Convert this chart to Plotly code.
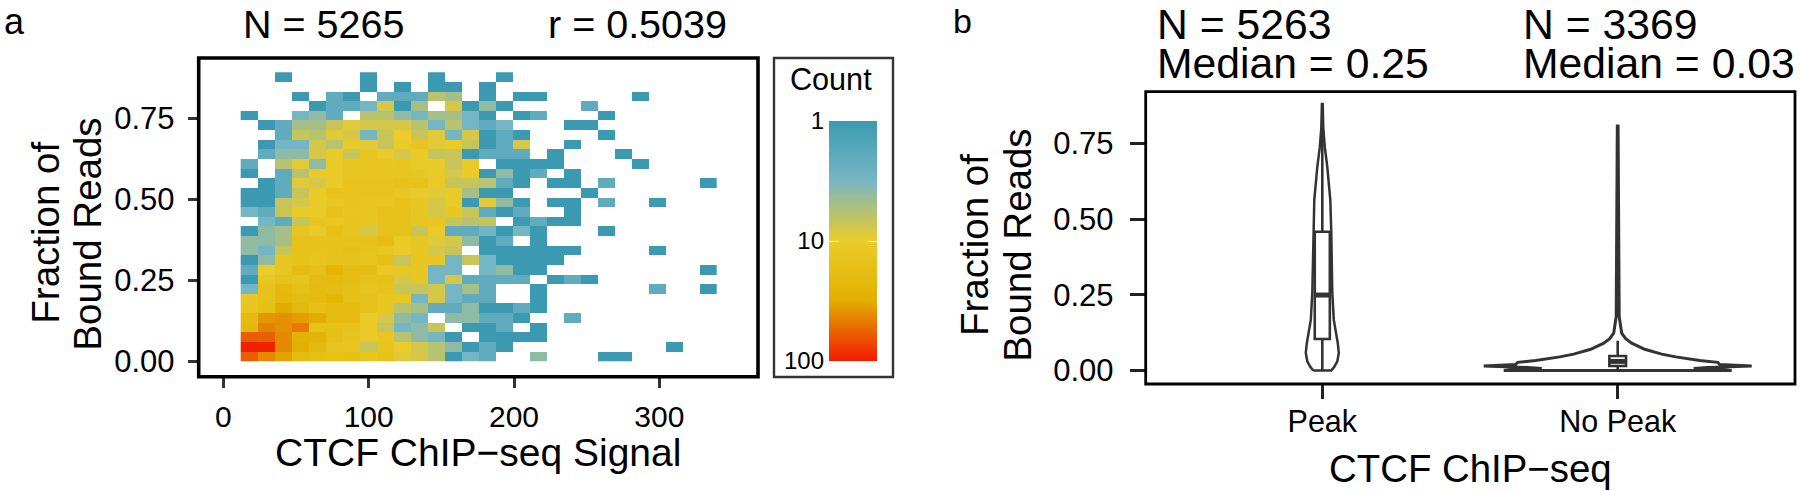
import numpy as np
import plotly.graph_objects as go

W, H = 1800, 491
FONT = "Liberation Sans"
INK = "#333333"

# Panel a: 2D histogram, counts per cell, bottom row first
BIN_X0, BIN_DX = 11.9, 11.7
BIN_DY = 0.0297
counts = [
    [60,42,35,20,17,16,17,13,15,9,8,6,1,3,2,0,0,4,0,0,0,1,1],
    [95,95,42,30,22,14,13,7,14,10,8,6,4,1,2,1,0,0,0,0,0,0,0,0,0,1],
    [60,58,42,28,26,17,14,11,13,6,4,3,1,0,1,1,1,1],
    [22,45,40,48,15,17,15,11,7,3,4,7,0,1,1,2,0,1],
    [20,38,40,36,32,20,20,11,8,4,3,0,4,4,2,2,1,0,0,2],
    [13,17,32,22,17,19,20,15,13,6,5,2,2,4,1,1,2,1],
    [12,15,22,19,20,24,17,15,12,12,3,8,3,2,2,0,0,1],
    [3,15,21,17,20,18,17,13,15,7,7,8,3,5,2,0,0,1,0,0,0,0,0,0,2,0,0,1],
    [1,12,16,14,19,20,18,15,16,8,12,3,8,2,2,2,2,0,1,2,1],
    [2,10,13,19,16,25,18,18,12,12,12,3,3,0,3,4,1,1,0,0,0,0,0,0,0,0,0,1],
    [1,4,13,15,14,15,15,14,17,7,12,12,3,7,3,1,1,1,1],
    [4,3,7,15,15,15,17,15,13,11,12,8,7,0,1,1,1,1,1,1,0,0,0,0,1],
    [4,4,5,15,15,15,15,16,18,11,12,9,8,4,1,2,0,1],
    [1,4,5,14,11,17,14,8,15,15,7,11,2,2,3,1,3,1,0,0,0,1],
    [0,3,2,7,13,12,14,13,15,15,13,12,7,6,7,0,1,2,1,1],
    [3,2,7,11,11,15,13,13,16,16,12,8,12,7,2,1,2,0,0,1],
    [1,1,7,8,11,12,14,13,13,15,12,8,11,1,9,4,1,0,1,1,0,2,0,0,1],
    [1,1,2,7,11,15,14,14,14,12,11,9,11,5,1,1,0,0,0,0,1],
    [0,1,2,9,8,11,14,14,14,15,15,11,7,7,6,2,1,0,1,1,0,2,0,0,0,0,0,1],
    [1,0,2,6,11,11,13,13,13,13,12,11,8,11,1,4,1,2,0,1],
    [2,0,6,9,4,11,12,13,12,13,11,11,7,11,0,1,1,1,1,0,0,0,0,1],
    [0,2,4,4,8,11,7,13,11,8,11,7,7,1,2,2,2,0,1,0,0,0,1],
    [0,1,3,3,8,6,11,9,7,11,13,9,11,7,1,2,8,0,0,1],
    [0,0,2,7,6,9,8,3,7,10,7,9,3,8,1,2,1,0,0,0,0,1],
    [0,1,2,5,5,7,9,8,8,8,6,3,6,3,2,3,0,0,0,1,1],
    [1,0,0,3,4,2,0,6,6,4,3,5,5,3,1,0,1,2,0,0,0,1],
    [0,0,0,0,1,2,2,3,8,1,5,0,8,1,4,1,0,0,0,0,2],
    [0,0,0,1,0,2,1,0,2,2,2,6,5,0,1,0,1,1,0,0,0,0,0,1],
    [0,0,0,0,0,0,0,1,0,1,0,1,1,0,1],
    [0,0,1,0,0,0,0,1,0,0,0,1,0,0,0,1],
]
zissou = [[0, "#3B9AB2"], [0.25, "#78B7C5"], [0.5, "#EBCC2A"], [0.75, "#E1AF00"], [1, "#F21A00"]]
x_ticks_a = [0, 100, 200, 300]
y_ticks = [0, 0.25, 0.5, 0.75]
y_tick_labels = ["0.00", "0.25", "0.50", "0.75"]
legend_vals = [0, 1, 2]
legend_labels = ["1", "10", "100"]

# Panel b: violin outlines (value, half width of density) and box stats
cats = ["Peak", "No Peak"]
peak_val = [0, 0.012, 0.03, 0.058, 0.09, 0.167, 0.256, 0.454, 0.563, 0.672, 0.737, 0.80, 0.8795]
peak_dens = [9, 12, 15, 16.5, 15.5, 11.5, 10, 9, 8, 5, 2.5, 1, 0.4]
nopeak_val = [0, 0.004, 0.007, 0.01, 0.015, 0.02, 0.027, 0.033, 0.045, 0.054, 0.07, 0.09, 0.105, 0.123, 0.178, 0.4, 0.6, 0.807]
nopeak_dens = [114, 100, 76, 90, 134, 102, 100, 82, 58, 44, 27, 14, 8, 4, 1.5, 1.0, 0.8, 0.4]
violin_line = [2.5, 3.0]
box_q1 = [0.104, 0.015]
box_med = [0.249, 0.03]
box_q3 = [0.458, 0.048]
box_lo = [0.0, 0.0]
box_hi = [0.8795, 0.098]
box_w = [0.051, 0.0565]

# Pixel frames
ax_a = dict(l=198.7, r=758, t=58, b=376.7)
ax_leg = dict(l=829, r=877, t=121, b=361)
ax_b = dict(l=1145.7, r=1795, t=91.7, b=384)
def dom(a):
    return dict(x=[a["l"]/W, a["r"]/W], y=[1-a["b"]/H, 1-a["t"]/H])

fig = go.Figure()

# Panel a heatmap
ncol = max(len(r) for r in counts)
z = [[(np.log10(v) if v else None) for v in (r + [0]*(ncol-len(r)))] for r in counts]
xc = [BIN_X0 + BIN_DX*(i+0.5) for i in range(ncol)]
yc = [BIN_DY*(i+0.5) for i in range(len(counts))]
fig.add_trace(go.Heatmap(x=xc, y=yc, z=z, zmin=0, zmax=2, colorscale=zissou, showscale=False,
                         hoverongaps=False, xaxis="x", yaxis="y"))

# Legend ramp
ramp = np.linspace(0, 2, 121)
fig.add_trace(go.Heatmap(x=[0, 1], y=ramp, z=[[v, v] for v in ramp], zmin=0, zmax=2, colorscale=zissou,
                         showscale=False, xaxis="x2", yaxis="y2"))

# Violins
PX_PER_X = 295.4
for i, (vals, dens) in enumerate([(peak_val, peak_dens), (nopeak_val, nopeak_dens)]):
    c = i + 1
    hw = [d/PX_PER_X for d in dens]
    xs = [c - h for h in hw] + [c + h for h in hw[::-1]] + [c - hw[0]]
    ys = list(vals) + list(vals[::-1]) + [vals[0]]
    fig.add_trace(go.Scatter(x=xs, y=ys, mode="lines", line=dict(color=INK, width=violin_line[i]),
                             hoverinfo="skip", showlegend=False, xaxis="x3", yaxis="y3"))
# Boxes
for i, cat in enumerate(cats):
    fig.add_trace(go.Box(x=[i+1], q1=[box_q1[i]], median=[box_med[i]], q3=[box_q3[i]],
                         lowerfence=[box_lo[i]], upperfence=[box_hi[i]], width=box_w[i],
                         whiskerwidth=0, boxpoints=False, line=dict(color=INK, width=2.6),
                         fillcolor="rgba(0,0,0,0)", showlegend=False, xaxis="x3", yaxis="y3"))
    fig.add_trace(go.Scatter(x=[i+1-box_w[i]/2, i+1+box_w[i]/2], y=[box_med[i]]*2, mode="lines",
                             line=dict(color=INK, width=5), hoverinfo="skip", showlegend=False,
                             xaxis="x3", yaxis="y3"))

def axis_style(ticklen, size, standoff, color=INK, width=2.6):
    return dict(showgrid=False, zeroline=False, ticks="outside", ticklen=ticklen, tickwidth=width,
                tickcolor=color, showline=False, automargin=False, ticklabelstandoff=standoff,
                tickfont=dict(family=FONT, size=size, color="black"))

da, dl, db = dom(ax_a), dom(ax_leg), dom(ax_b)
fig.update_layout(
    width=W, height=H, margin=dict(l=0, r=0, t=0, b=0, pad=0), autosize=False,
    paper_bgcolor="white", plot_bgcolor="white", showlegend=False,
    font=dict(family=FONT, color="black"),
    xaxis=dict(domain=da["x"], range=[-17, 367.9], tickvals=x_ticks_a, anchor="y", **axis_style(10, 30, 3)),
    yaxis=dict(domain=da["y"], range=[-0.0475, 0.935], tickvals=y_ticks, ticktext=y_tick_labels, anchor="x",
               **axis_style(10, 31, 7)),
    xaxis2=dict(domain=dl["x"], range=[-0.5, 1.5], visible=False, anchor="y2", automargin=False),
    yaxis2=dict(domain=dl["y"], range=[2, 0], tickvals=legend_vals, ticktext=legend_labels, anchor="x2",
                showgrid=False, zeroline=False, showline=False, ticks="inside", ticklen=9, tickwidth=1,
                tickcolor="white", mirror="ticks", ticklabelstandoff=4, automargin=False,
                tickfont=dict(family=FONT, size=24, color="black")),
    xaxis3=dict(domain=db["x"], range=[1-(1322.3-1145.7)/PX_PER_X, 1+(1795-1322.3)/PX_PER_X], tickvals=[1, 2],
                ticktext=cats, anchor="y3", **axis_style(14, 30.5, -4, "#222222")),
    yaxis3=dict(domain=db["y"], range=[-(384-370.5)/303, (370.5-91.7)/303], tickvals=y_ticks,
                ticktext=y_tick_labels, anchor="x3", **axis_style(15, 31, 10, "#222222")),
)

def frame(a, width, color="black"):
    return dict(type="rect", xref="paper", yref="paper", x0=a["l"]/W, x1=a["r"]/W, y0=1-a["b"]/H, y1=1-a["t"]/H,
                line=dict(color=color, width=width), layer="above")
fig.update_layout(shapes=[frame(ax_a, 3.6), frame(dict(l=774, r=893, t=58, b=377), 2.4, INK), frame(ax_b, 2.8)])

def text(s, px, py, size, xanchor="left", angle=0):
    return dict(text=s, x=px/W, y=1-py/H, xref="paper", yref="paper", showarrow=False, xanchor=xanchor,
                yanchor="middle", textangle=angle, borderpad=0,
                font=dict(family=FONT, size=size, color="black"))

fig.update_layout(annotations=[
    text("a", 3, 21, 36),
    text("b", 952, 21, 34),
    text("N = 5265", 242, 24, 39.5),
    text("r = 0.5039", 547, 24, 39.5),
    text("Count", 831, 79, 30.6, "center"),
    text("N = 5263", 1156, 24, 42.7),
    text("Median = 0.25", 1156, 63, 42.7),
    text("N = 3369", 1522, 24, 42.7),
    text("Median = 0.03", 1522, 63, 42.7),
    text("Fraction of", 44.7, 233, 38.5, "center", -90),
    text("Bound Reads", 86.7, 234, 38.5, "center", -90),
    text("Fraction of", 974, 245, 38.5, "center", -90),
    text("Bound Reads", 1016.7, 245, 38.5, "center", -90),
    text("CTCF ChIP\u2212seq Signal", 478, 452, 39, "center"),
    text("CTCF ChIP\u2212seq", 1470, 468, 38.4, "center"),
])
fig.write_html("out.html", config=dict(displayModeBar=False),
               post_script="document.documentElement.style.margin='0';document.body.style.margin='0';document.body.style.overflow='hidden';")
